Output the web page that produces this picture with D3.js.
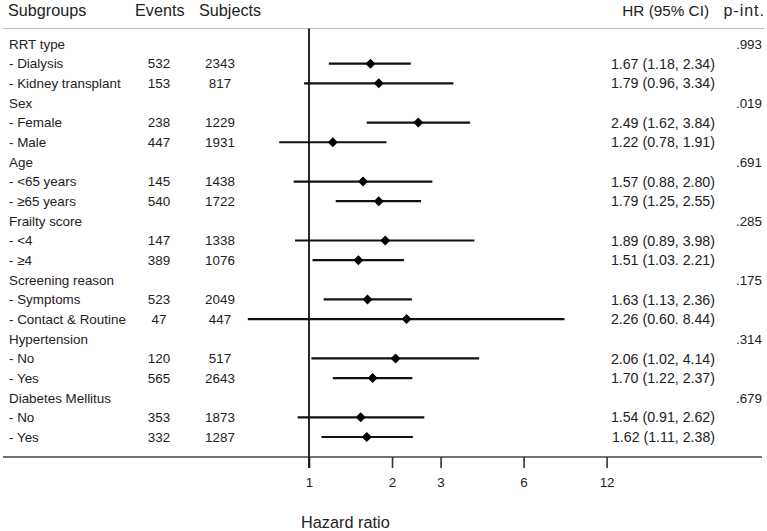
<!DOCTYPE html>
<html>
<head>
<meta charset="utf-8">
<script src="https://cdn.jsdelivr.net/npm/d3@7"></script>
<style>
  html, body { margin: 0; padding: 0; background: #fff; }
  svg { display: block; font-family: "Liberation Sans", Arial, sans-serif; }
</style>
</head>
<body>
<svg id="chart" width="767" height="531"></svg>
<script>
// ---- data ----
const labels = ["RRT type", "- Dialysis", "- Kidney transplant", "Sex", "- Female", "- Male",
  "Age", "- <65 years", "- \u226565 years", "Frailty score", "- <4", "- \u22654",
  "Screening reason", "- Symptoms", "- Contact & Routine", "Hypertension", "- No", "- Yes",
  "Diabetes Mellitus", "- No", "- Yes"];
const events   = [null, 532, 153, null, 238, 447, null, 145, 540, null, 147, 389, null, 523, 47, null, 120, 565, null, 353, 332];
const subjects = [null, 2343, 817, null, 1229, 1931, null, 1438, 1722, null, 1338, 1076, null, 2049, 447, null, 517, 2643, null, 1873, 1287];
const hr       = [null, 1.67, 1.79, null, 2.49, 1.22, null, 1.57, 1.79, null, 1.89, 1.51, null, 1.63, 2.26, null, 2.06, 1.70, null, 1.54, 1.62];
const lower    = [null, 1.18, 0.96, null, 1.62, 0.78, null, 0.88, 1.25, null, 0.89, 1.03, null, 1.13, 0.60, null, 1.02, 1.22, null, 0.91, 1.11];
const upper    = [null, 2.34, 3.34, null, 3.84, 1.91, null, 2.80, 2.55, null, 3.98, 2.21, null, 2.36, 8.44, null, 4.14, 2.37, null, 2.62, 2.38];
const hrText   = [null, "1.67 (1.18, 2.34)", "1.79 (0.96, 3.34)", null, "2.49 (1.62, 3.84)", "1.22 (0.78, 1.91)",
  null, "1.57 (0.88, 2.80)", "1.79 (1.25, 2.55)", null, "1.89 (0.89, 3.98)", "1.51 (1.03. 2.21)",
  null, "1.63 (1.13, 2.36)", "2.26 (0.60. 8.44)", null, "2.06 (1.02, 4.14)", "1.70 (1.22, 2.37)",
  null, "1.54 (0.91, 2.62)", "1.62 (1.11, 2.38)"];
const pInt     = [".993", null, null, ".019", null, null, ".691", null, null, ".285", null, null,
  ".175", null, null, ".314", null, null, ".679", null, null];
const tickValues = [1, 2, 3, 6, 12];
const headers = ["Subgroups", "Events", "Subjects", "HR (95% CI)", "p-int."];

// ---- layout ----
const svg = d3.select("#chart");
const x = d3.scaleLog().domain([1, 12]).range([309, 606.6]);
const y = d3.scaleLinear().domain([0, labels.length - 1]).range([44, 437]);
const textColor = "#222";
const rows = d3.range(labels.length);

// header
const hdr = svg.append("g").attr("fill", textColor).attr("font-size", 16.2);
hdr.append("text").attr("x", 8).attr("y", 16).text(headers[0]);
hdr.append("text").attr("x", 135).attr("y", 16).text(headers[1]);
hdr.append("text").attr("x", 199).attr("y", 16).text(headers[2]);
hdr.append("text").attr("x", 709).attr("y", 16).attr("text-anchor", "end").attr("font-size", 15.3).text(headers[3]);
hdr.append("text").attr("x", 765).attr("y", 16).attr("text-anchor", "end").attr("font-size", 16)
  .attr("letter-spacing", 1).text(headers[4]);

svg.append("line").attr("x1", 3).attr("x2", 764).attr("y1", 28.5).attr("y2", 28.5)
  .attr("stroke", "#bbb").attr("stroke-width", 1.2);

// row texts
const body = svg.append("g").attr("fill", textColor).attr("font-size", 13.4);
body.selectAll(".lab").data(rows).join("text")
  .attr("x", 9).attr("y", i => y(i)).attr("dy", "0.36em").text(i => labels[i]);
body.selectAll(".ev").data(rows.filter(i => events[i] != null)).join("text")
  .attr("x", 159).attr("y", i => y(i)).attr("dy", "0.36em").attr("text-anchor", "middle").text(i => events[i]);
body.selectAll(".su").data(rows.filter(i => subjects[i] != null)).join("text")
  .attr("x", 220).attr("y", i => y(i)).attr("dy", "0.36em").attr("text-anchor", "middle").text(i => subjects[i]);
body.selectAll(".hr").data(rows.filter(i => hrText[i] != null)).join("text")
  .attr("x", 715).attr("y", i => y(i)).attr("dy", "0.36em").attr("text-anchor", "end")
  .attr("font-size", 14.2).text(i => hrText[i]);
body.selectAll(".p").data(rows.filter(i => pInt[i] != null)).join("text")
  .attr("x", 762).attr("y", i => y(i)).attr("dy", "0.36em").attr("text-anchor", "end")
  .attr("font-size", 13.4).text(i => pInt[i]);

// axis
const axisY = 457;
svg.append("line").attr("x1", 3).attr("x2", 762).attr("y1", axisY).attr("y2", axisY)
  .attr("stroke", "#444").attr("stroke-width", 1.6);
const axis = d3.axisBottom(x).tickValues(tickValues).tickFormat(d3.format("d")).tickSize(11).tickPadding(9);
const ag = svg.append("g").attr("transform", `translate(0,${axisY})`).call(axis);
ag.select(".domain").remove();
ag.selectAll(".tick line").attr("stroke", "#333").attr("stroke-width", 1.6);
ag.selectAll(".tick text").attr("fill", textColor).attr("font-size", 13.4)
  .attr("font-family", "Liberation Sans, Arial, sans-serif");

// reference line at HR = 1
svg.append("line").attr("x1", x(1)).attr("x2", x(1)).attr("y1", 28.5).attr("y2", 468)
  .attr("stroke", "#111").attr("stroke-width", 1.8);

svg.append("text").attr("x", 301).attr("y", 528).attr("fill", textColor).attr("font-size", 16.3)
  .text("Hazard ratio");

// CI lines and diamonds
const est = rows.filter(i => hr[i] != null);
svg.append("g").selectAll("line").data(est).join("line")
  .attr("x1", i => x(lower[i])).attr("x2", i => x(upper[i]))
  .attr("y1", i => y(i)).attr("y2", i => y(i))
  .attr("stroke", "#111").attr("stroke-width", 2.2);
svg.append("g").selectAll("path").data(est).join("path")
  .attr("d", i => {
    const cx = x(hr[i]), cy = y(i), r = 5;
    return `M${cx},${cy - r}L${cx + r},${cy}L${cx},${cy + r}L${cx - r},${cy}Z`;
  })
  .attr("fill", "#000");
</script>
</body>
</html>
